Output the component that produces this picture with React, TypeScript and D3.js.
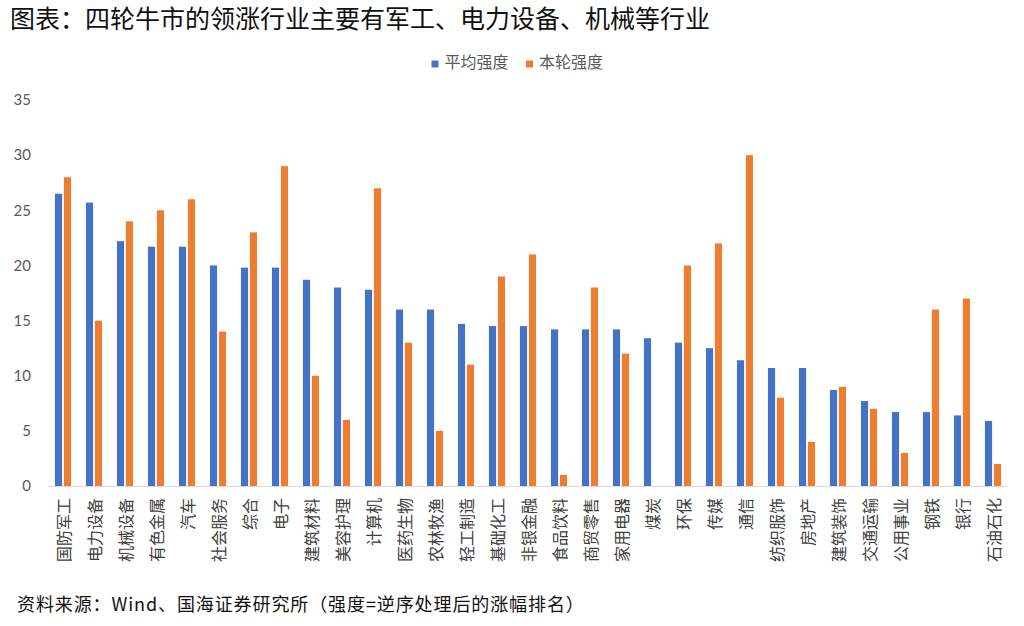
import React from "react";
import * as d3 from "d3";

const categories = ["国防军工","电力设备","机械设备","有色金属","汽车","社会服务","综合","电子","建筑材料","美容护理","计算机","医药生物","农林牧渔","轻工制造","基础化工","非银金融","食品饮料","商贸零售","家用电器","煤炭","环保","传媒","通信","纺织服饰","房地产","建筑装饰","交通运输","公用事业","钢铁","银行","石油石化"];
const avgStrength = [26.5,25.7,22.2,21.7,21.7,20,19.8,19.8,18.7,18,17.8,16,16,14.7,14.5,14.5,14.2,14.2,14.2,13.4,13,12.5,11.4,10.7,10.7,8.7,7.7,6.7,6.7,6.4,5.9];
const curStrength = [28,15,24,25,26,14,23,29,10,6,27,13,5,11,19,21,1,18,12,0,20,22,30,8,4,9,7,3,16,17,2];
const seriesNames = ["平均强度","本轮强度"];
const seriesColors = ["#4472C4","#ED7D31"];
const yTicks = [0,5,10,15,20,25,30,35];
const title = "图表：四轮牛市的领涨行业主要有军工、电力设备、机械等行业";
const source = "资料来源：Wind、国海证券研究所（强度=逆序处理后的涨幅排名）";

const W = 1024, H = 626;
const cjk = "'Noto Sans CJK SC', 'Noto Sans', sans-serif";

export default function App() {
  const x = d3.scaleBand<string>().domain(categories).range([47.5, 1008.5]).paddingInner(0.48).paddingOuter(0.24);
  const xi = d3.scaleBand<string>().domain(seriesNames).range([0, x.bandwidth()]).paddingInner(0.2);
  const y = d3.scaleLinear().domain([0, 35]).range([486, 100]);
  const series = [avgStrength, curStrength];

  return (
    <svg width={W} height={H} style={{ position: "absolute", left: 0, top: 0, background: "#fff" }}>
      <text x={10} y={28} fontFamily={cjk} fontSize={25} fill="#111">{title}</text>
      {/* legend */}
      {seriesNames.map((s, i) => {
        const lx = [431.5, 526][i];
        return (
          <g key={s}>
            <rect x={lx} y={60.5} width={7} height={7} fill={seriesColors[i]} />
            <text x={lx + 13} y={67.5} fontFamily={cjk} fontSize={16} fill="#595959">{s}</text>
          </g>
        );
      })}
      {/* y ticks */}
      {yTicks.map(t => (
        <text key={t} x={31} y={y(t)} dy="0.35em" textAnchor="end" fontFamily="Lato, 'Noto Sans', sans-serif" fontSize={15} fill="#595959">{t}</text>
      ))}
      {/* bars */}
      {categories.map((c, ci) => (
        <g key={c} transform={`translate(${x(c)},0)`}>
          {series.map((vals, si) => vals[ci] > 0 ? (
            <rect key={si} x={xi(seriesNames[si])} y={y(vals[ci])} width={xi.bandwidth()} height={y(0) - y(vals[ci])} fill={seriesColors[si]} />
          ) : null)}
        </g>
      ))}
      <line x1={47.5} x2={1008.5} y1={486.5} y2={486.5} stroke="#D9D9D9" strokeWidth={1} />
      {/* x labels, rotated -90 */}
      {categories.map(c => {
        const cx = (x(c) as number) + x.bandwidth() / 2;
        return (
          <text key={c} transform={`translate(${cx},498) rotate(-90)`} textAnchor="end" dominantBaseline="central"
            fontFamily={cjk} fontSize={16} fill="#404040">{c}</text>
        );
      })}
      <text x={17} y={611} fontFamily={cjk} fontSize={18} letterSpacing={0.9} fill="#111">{source}</text>
    </svg>
  );
}
